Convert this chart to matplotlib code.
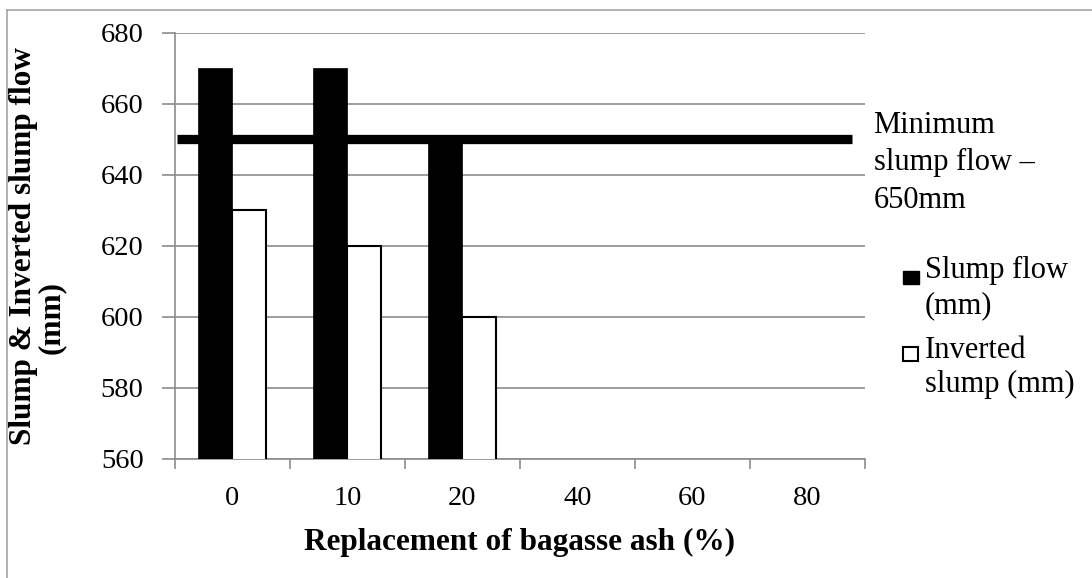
import numpy as np
import matplotlib
matplotlib.use('Agg')
import matplotlib.pyplot as plt
from matplotlib.lines import Line2D
from matplotlib.patches import Rectangle
import matplotlib.transforms as mtransforms

plt.rcParams['font.family'] = ['Liberation Serif', 'DejaVu Serif']

#replacement levels (%) and flows (mm) - only 0,10,20 were tested
categories = ['0', '10', '20', '40', '60', '80']
slump_flow = [670, 670, 650, np.nan, np.nan, np.nan]
inverted_slump = [630, 620, 600, np.nan, np.nan, np.nan]
min_slump = 650
yticks = [560, 580, 600, 620, 640, 660, 680]

fig = plt.figure(figsize=(10.92, 5.78), dpi=100)
ax = fig.add_axes([0.160, 0.206, 0.632, 0.737])

x = np.arange(len(categories))
#black bar sits left of the centre, white bar right of it
ax.bar(x, slump_flow, -0.30, align='edge', color='black', edgecolor='black', linewidth=0.5, zorder=3)
ax.bar(x, inverted_slump, 0.29, align='edge', color='white', edgecolor='black', linewidth=1.5, zorder=3)

#minimum slump line
trans = mtransforms.blended_transform_factory(ax.transAxes, ax.transData)
ax.plot([0.004, 0.981], [min_slump, min_slump], color='black', linewidth=6.7,
        transform=trans, clip_on=False, zorder=4, solid_capstyle='butt')
fig.text(0.800, 1 - 111/578, 'Minimum\nslump flow \u2013\n650mm', fontsize=22,
         va='top', ha='left', linespacing=1.375)

ax.set_xlim(-0.5, len(categories) - 0.5)
ax.set_ylim(560, 680)
ax.set_yticks(yticks)
ax.yaxis.grid(True, color='#8c8c8c', linewidth=1.2)
ax.set_axisbelow(True)

ax.set_xticks(x)
ax.set_xticklabels(categories)
ax.set_xticks(np.arange(len(categories) + 1) - 0.5, minor=True)
ax.tick_params(axis='x', which='major', length=0, pad=19.5, labelsize=20.5)
ax.tick_params(axis='x', which='minor', length=7, width=1.2, color='#8c8c8c', direction='out')
ax.tick_params(axis='y', length=9.4, width=1.2, color='#8c8c8c', labelsize=20.5, pad=13)

for s in ['top', 'right']:
    ax.spines[s].set_visible(False)
for s in ['left', 'bottom']:
    ax.spines[s].set_color('#8c8c8c')
    ax.spines[s].set_linewidth(1.2)

ax.set_xlabel('Replacement of bagasse ash (%)', fontsize=22.5, fontweight='bold')
ax.xaxis.set_label_coords(0.5, -0.162)

#y label: excel wraps the unit onto a second, offset line
fig.text(24/1092, 1 - 246/578, 'Slump & Inverted slump flow', fontsize=22.5, fontweight='bold',
         rotation=90, ha='center', va='center')
fig.text(51/1092, 1 - 318/578, '(mm)', fontsize=22.5, fontweight='bold',
         rotation=90, ha='center', va='center')

#legend drawn by hand so the markers line up with the first text line
fig.add_artist(Rectangle((903/1092, 1 - 284/578), 16/1092, 13/578, transform=fig.transFigure,
                         facecolor='black', edgecolor='black', linewidth=1))
fig.add_artist(Rectangle((903/1092, 1 - 361/578), 15/1092, 14/578, transform=fig.transFigure,
                         facecolor='white', edgecolor='black', linewidth=1.5))
fig.text(0.847, 1 - 256/578, 'Slump flow\n(mm)', fontsize=22, va='top', ha='left', linespacing=1.28)
fig.text(0.847, 1 - 336/578, 'Inverted\nslump (mm)', fontsize=22, va='top', ha='left', linespacing=1.24)

#outer chart frame (cut by image edges)
fig.add_artist(Line2D([0.0064, 1.0], [0.982, 0.982], color='#a6a6a6', linewidth=1.2))
fig.add_artist(Line2D([0.0064, 0.0064], [0.0, 0.982], color='#a6a6a6', linewidth=1.2))

fig.savefig('out.png', dpi=100)
